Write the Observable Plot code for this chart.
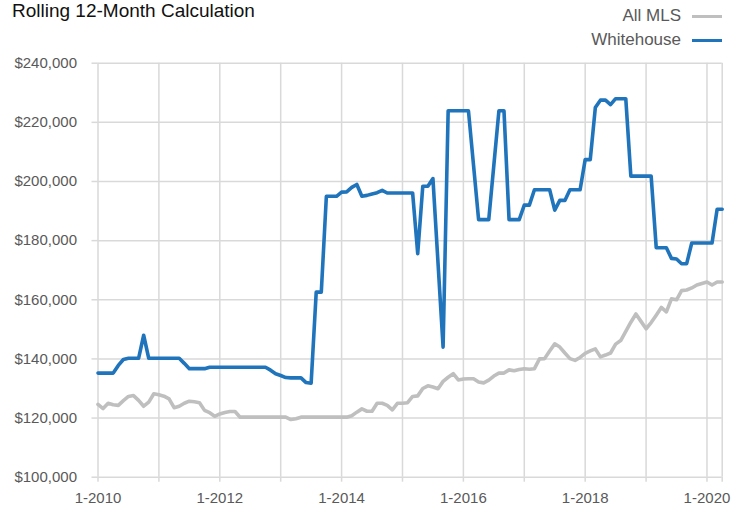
<!DOCTYPE html>
<html>
<head>
<meta charset="utf-8">
<script src="https://cdn.jsdelivr.net/npm/d3@7"></script>
<script src="https://cdn.jsdelivr.net/npm/@observablehq/plot@0.6"></script>
<style>
  html, body { margin: 0; padding: 0; background: #fff; width: 745px; height: 512px; overflow: hidden; }
  body { font-family: "Liberation Sans", Arial, Helvetica, sans-serif; }
  #header { position: relative; height: 50px; width: 745px; }
  #title { position: absolute; left: 12px; top: 1px; font-size: 19px; line-height: 19px; color: #111; white-space: nowrap; }
  .lg { position: absolute; right: 64px; font-size: 17px; line-height: 17px; color: #595959; white-space: nowrap; }
  .sw { position: absolute; left: 692px; width: 30px; height: 3px; }
</style>
</head>
<body>
<div id="header"></div>
<div id="chart"></div>
<script>
// ---- data (monthly, Jan 2010 .. Apr 2020) ----
const seriesNames = ["All MLS", "Whitehouse"];
const seriesColors = ["#bfbfbf", "#1f74bb"];

const allMLS = [
  124600,123200,125000,124500,124300,125900,127300,127600,126000,124000,125400,128200,
  127900,127400,126500,123500,124000,125000,125700,125500,125200,122600,121800,120600,
  121400,121900,122200,122200,120300,120300,120300,120300,120300,120300,120300,120300,
  120300,120300,119500,119800,120300,120300,120300,120300,120300,120300,120300,120300,
  120300,120300,120800,122000,123100,122300,122300,125000,125000,124300,122800,125000,
  125000,125200,127300,127500,130000,130900,130500,129900,132400,133800,135000,132900,
  133200,133300,133300,132200,131900,132800,134200,135200,135200,136300,136000,136400,
  136700,136500,136700,140000,140100,142700,145100,144000,142000,140100,139500,140500,
  141900,142700,143400,140700,141300,142000,145000,146200,149300,152400,155200,152700,
  150200,152300,154800,157400,155900,160300,160000,163100,163300,164000,165000,165500,
  166000,165000,166000,166000
];

const whitehouse = [
  135200,135200,135200,135200,137800,139800,140200,140200,140200,148000,140200,140200,
  140200,140200,140200,140200,140200,138500,136700,136700,136700,136700,137200,137200,
  137200,137200,137200,137200,137200,137200,137200,137200,137200,137200,136200,135000,
  134400,133700,133600,133600,133600,132000,131800,162600,162600,195000,195000,195000,
  196400,196500,198000,199000,195000,195300,195800,196200,197000,196100,196100,196100,
  196100,196100,196100,175600,198400,198400,201000,172500,144000,223900,223900,223900,
  223900,223900,205500,187100,187100,187100,205500,223900,223900,187100,187100,187100,
  192000,192000,197200,197200,197200,197200,190300,193600,193600,197200,197200,197200,
  207400,207400,225000,227500,227500,226000,228000,228000,228000,201800,201800,201800,
  201800,201800,177600,177600,177600,174000,173800,172200,172200,179200,179200,179200,
  179200,179200,190600,190600
];

const xLabels = ["1-2010", "1-2012", "1-2014", "1-2016", "1-2018", "1-2020"];
const yTicks = [100000, 120000, 140000, 160000, 180000, 200000, 220000, 240000];
const titleText = "Rolling 12-Month Calculation";

// ---- derived helpers ----
const nMonths = allMLS.length;                       // 124 months
const labelMonths = xLabels.map((_, i) => i * 24);   // Jan of every other year
const gridMonths = d3.range(0, nMonths, 12).concat([nMonths - 1]);

const rows = [];
seriesNames.forEach((name, s) => {
  const vals = s === 0 ? allMLS : whitehouse;
  vals.forEach((v, i) => rows.push({series: name, month: i, value: v}));
});

// ---- header (title + legend) ----
const header = document.getElementById("header");
const t = document.createElement("div");
t.id = "title"; t.textContent = titleText; header.appendChild(t);
seriesNames.forEach((name, i) => {
  const l = document.createElement("div");
  l.className = "lg"; l.textContent = name; l.style.top = (7.3 + 24 * i) + "px";
  header.appendChild(l);
  const s = document.createElement("div");
  s.className = "sw"; s.style.background = seriesColors[i]; s.style.top = (15.2 + 24 * i) + "px";
  header.appendChild(s);
});

// ---- chart ----
const fmt = d3.format(",");
const chart = Plot.plot({
  width: 745,
  height: 462,
  marginTop: 12.7,
  marginBottom: 35.3,
  marginLeft: 97.5,
  marginRight: 23.3,
  style: {fontFamily: "'Liberation Sans', Arial, Helvetica, sans-serif", fontSize: "15px", color: "#595959", background: "#fff", overflow: "visible"},
  x: {domain: [0, nMonths - 1], label: null},
  y: {domain: [100000, 240000], label: null},
  color: {domain: seriesNames, range: seriesColors},
  marks: [
    Plot.gridX(gridMonths, {stroke: "#d9d9d9", strokeOpacity: 1, strokeWidth: 1.5}),
    Plot.gridY(yTicks, {stroke: "#d9d9d9", strokeOpacity: 1, strokeWidth: 1.5}),
    Plot.axisY(yTicks, {label: null, tickSize: 6, tickPadding: 15, stroke: "#d9d9d9", strokeWidth: 1.5, tickFormat: d => "$" + fmt(d), fill: "#595959"}),
    Plot.axisX(gridMonths, {label: null, tickSize: 5, tickFormat: () => "", stroke: "#d9d9d9", strokeWidth: 1.5}),
    Plot.axisX(labelMonths, {label: null, tickSize: 0, tickPadding: 15, tickFormat: (d, i) => xLabels[i], fill: "#595959"}),
    Plot.line(rows, {x: "month", y: "value", z: "series", stroke: "series", strokeWidth: 3.6})
  ]
});
document.getElementById("chart").appendChild(chart);
</script>
</body>
</html>
